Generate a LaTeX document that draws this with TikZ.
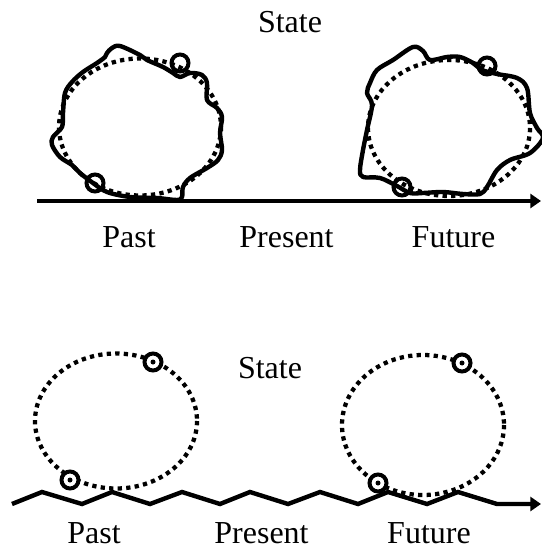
\documentclass[tikz,border=0pt]{standalone}
\usepackage{fontspec}
\setmainfont{Liberation Serif}
\usetikzlibrary{arrows.meta}
\begin{document}
\begin{tikzpicture}[x=0.75pt,y=-0.75pt,
  lbl/.style={anchor=base,inner sep=0pt,font=\fontsize{24}{28}\selectfont},
  wig/.style={line width=3.3pt,line join=round},
  dotell/.style={line width=3.2pt,dash pattern=on 3.2pt off 3.2pt},
  ring/.style={line width=3pt},
  axisline/.style={line width=3.3pt,-{Triangle[length=8pt,width=10.5pt]}},
  zig/.style={line width=3.3pt,line join=miter,-{Triangle[length=8pt,width=10.5pt]}}]
\useasboundingbox (0,0) rectangle (541,548);
% ---------- top diagram ----------
\node[lbl] (stateT) at (290,33) {State};
\draw[dotell] (140,127) ellipse [x radius=81,y radius=68.5];
\draw[dotell] (449,128) ellipse [x radius=81,y radius=68];
\draw[wig] plot[smooth cycle,tension=0.55] coordinates {
 (107,53) (112,48) (120,46) (140,55) (147,60) (163,67) (173,73) (180,77)
 (190,73) (202,75) (207,83) (207,100) (217,108) (222,117) (220,133)
 (222,150) (218,160) (207,168) (190,178) (183,187) (182,197) (177,200)
 (157,198) (130,197) (107,192) (93,183) (80,173) (72,165) (60,157)
 (52,145) (53,137) (62,127) (63,113) (65,93) (72,82) (83,72) (97,63) (105,57)};
\draw[wig] plot[smooth cycle,tension=0.55] coordinates {
 (370,83) (377,70) (393,60) (413,47) (423,51) (430,60) (447,57) (460,57)
 (473,63) (482,70) (497,74) (517,78) (527,88) (530,113) (537,128)
 (543,138) (530,153) (510,160) (497,170) (487,187) (480,194) (463,194)
 (443,192) (423,193) (410,193) (397,186) (380,178) (363,177) (360,170)
 (363,150) (367,130) (372,105) (367,93)};
\draw[ring] (180,63) circle [radius=8.5];
\draw[ring] (95,183) circle [radius=8.5];
\draw[ring] (487,66) circle [radius=8.5];
\draw[ring] (402,187) circle [radius=8.5];
\coordinate (axT0) at (37,201);
\coordinate (axT1) at (541,201);
\draw[axisline] (axT0) -- (axT1);
\node[lbl] (pastT) at (129,248) {Past};
\node[lbl] (presT) at (286.5,248) {Present};
\node[lbl] (futT) at (453.5,248) {Future};
% ---------- bottom diagram ----------
\node[lbl] (stateB) at (270,378) {State};
\draw[dotell] (116,421) ellipse [x radius=81,y radius=67.5];
\draw[dotell] (423,425) ellipse [x radius=81,y radius=70];
\foreach \p in {(153,362),(70,480),(462,363),(378,483)}{
  \draw[ring,fill=white] \p circle [radius=8.5];
  \fill \p circle [radius=2.5];
}
\draw[zig] (12,504) -- (42,492) -- (82,504) -- (112,492) -- (150,504) -- (182,492)
 -- (220,504) -- (250,492) -- (288,504) -- (320,492) -- (358,504) -- (388,492)
 -- (427,504) -- (458,492) -- (497,504) -- (541,504);
\node[lbl] (pastB) at (94,543) {Past};
\node[lbl] (presB) at (261.5,543) {Present};
\node[lbl] (futB) at (429,543) {Future};
\end{tikzpicture}
\end{document}
